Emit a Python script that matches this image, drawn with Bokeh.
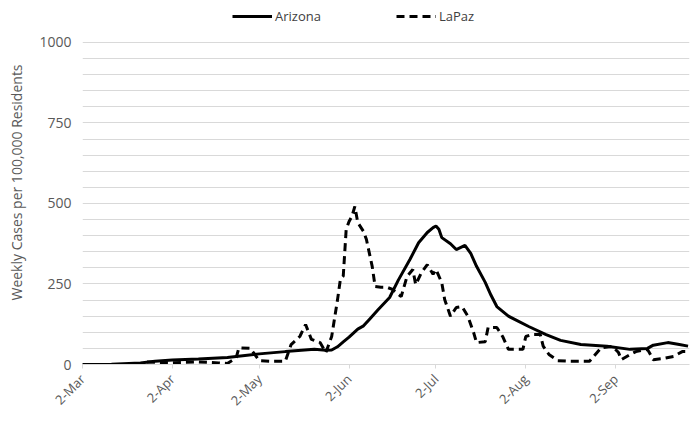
import math
from datetime import datetime, timedelta
from bokeh.plotting import figure
from bokeh.models import (Range1d, FixedTicker, Legend, LegendItem, DatetimeTickFormatter)
from bokeh.embed import file_html
from bokeh.resources import INLINE

start = datetime(2020, 3, 2)

az_days = [0, 10, 20, 25, 31, 40, 50, 61, 70, 80, 84, 86, 88, 90, 92, 95, 97, 99, 102, 106, 109,
           113, 116, 119, 121, 122, 123, 124, 127, 129, 132, 134, 136, 139, 141, 143, 147, 154,
           160, 165, 172, 181, 189, 195, 197, 202, 206, 209]
az_vals = [0, 1, 5, 10, 14, 17, 22, 33, 40, 47, 44, 45, 55, 70, 85, 110, 120, 140, 170, 208, 262,
           326, 378, 410, 425, 430, 420, 394, 375, 357, 370, 345, 305, 255, 215, 180, 150, 118,
           93, 75, 62, 57, 47, 50, 60, 68, 62, 57]

lp_days = [0, 20, 22, 30, 40, 47, 50, 53, 54, 58, 59, 61, 65, 70, 72, 75, 77, 79, 82, 84, 86, 88,
           89, 90, 91, 92, 93, 94, 95, 97, 98, 100, 101, 103, 105, 107, 110, 112, 114, 115, 117,
           119, 121, 122, 124, 125, 127, 129, 131, 133, 135, 136, 139, 140, 143, 145, 147, 152,
           153, 155, 158, 159, 161, 164, 168, 175, 177, 179, 183, 185, 186, 189, 191, 195, 197,
           200, 204, 207, 209]
lp_vals = [0, 0, 8, 5, 8, 5, 3, 20, 52, 50, 37, 12, 10, 10, 62, 87, 124, 78, 68, 37, 87, 200,
           264, 275, 419, 444, 460, 491, 441, 413, 388, 304, 242, 240, 240, 233, 211, 273, 295, 248, 286,
           310, 280, 295, 254, 202, 150, 177, 180, 150, 99, 68, 71, 115, 115, 87, 47, 47,
           87, 93, 93, 57, 31, 12, 10, 10, 31, 52, 56, 37, 15, 31, 40, 47, 15,
           18, 25, 40, 40]

month_ticks = ["2020-03-02", "2020-04-02", "2020-05-02", "2020-06-02", "2020-07-02",
               "2020-08-02", "2020-09-02"]
y_labels = [0, 250, 500, 750, 1000]

az_x = [start + timedelta(days=d) for d in az_days]
lp_x = [start + timedelta(days=d) for d in lp_days]

def ms(dt):
    return (dt - datetime(1970, 1, 1)).total_seconds() * 1000.0

FONT = "Open Sans"
GRAY = "#595959"

p = figure(frame_width=607, frame_height=364, output_backend="svg", toolbar_location=None,
           x_axis_type="datetime",
           x_range=Range1d(ms(start), ms(start + timedelta(days=209.5))),
           y_range=Range1d(0, 1130.4),
           min_border_left=82, min_border_right=1, min_border_top=0, min_border_bottom=41)
p.outline_line_color = None

r_az = p.line(az_x, az_vals, line_color="black", line_width=3)
r_lp = p.line(lp_x, lp_vals, line_color="black", line_width=3, line_dash="8 5")

p.xgrid.grid_line_color = None
p.ygrid.grid_line_color = "#d9d9d9"
p.ygrid.grid_line_width = 1.2
p.ygrid.ticker = FixedTicker(ticks=list(range(0, 1001, 50)))

p.yaxis.ticker = FixedTicker(ticks=y_labels)
p.yaxis.axis_line_color = None
p.yaxis.major_tick_line_color = None
p.yaxis.minor_tick_line_color = None
p.yaxis.axis_label = "Weekly Cases per 100,000 Residents"
p.yaxis.axis_label_text_font = FONT
p.yaxis.axis_label_text_font_style = "normal"
p.yaxis.axis_label_text_font_size = "14px"
p.yaxis.axis_label_text_color = GRAY
p.yaxis.axis_label_standoff = 10
p.yaxis.major_label_text_font = FONT
p.yaxis.major_label_text_font_size = "14px"
p.yaxis.major_label_text_color = GRAY
p.yaxis.major_label_standoff = 5

tick_ms = [ms(datetime.strptime(t, "%Y-%m-%d")) for t in month_ticks]
p.xaxis.ticker = FixedTicker(ticks=tick_ms)
p.xaxis.formatter = DatetimeTickFormatter(days="%-d-%b", months="%-d-%b")
p.xaxis.major_label_orientation = math.pi / 4
p.xaxis.axis_line_color = "#d9d9d9"
p.xaxis.axis_line_width = 1.2
p.xaxis.major_tick_line_color = "#d9d9d9"
p.xaxis.major_tick_in = 0
p.xaxis.major_tick_out = 4
p.xaxis.minor_tick_line_color = None
p.xaxis.major_label_text_font = FONT
p.xaxis.major_label_text_font_size = "13px"
p.xaxis.major_label_text_color = GRAY
p.xaxis.major_label_standoff = 8

legend = Legend(items=[LegendItem(label="Arizona", renderers=[r_az]),
                       LegendItem(label="LaPaz", renderers=[r_lp])],
                orientation="horizontal", location=(150, 338),
                glyph_width=40, label_width=95, spacing=26, label_standoff=3,
                label_text_font=FONT, label_text_font_size="13px", label_text_color="#404040",
                border_line_color=None, background_fill_alpha=0, padding=2, margin=0)
p.add_layout(legend, "center")

open("out.html", "w").write(file_html(p, INLINE))
